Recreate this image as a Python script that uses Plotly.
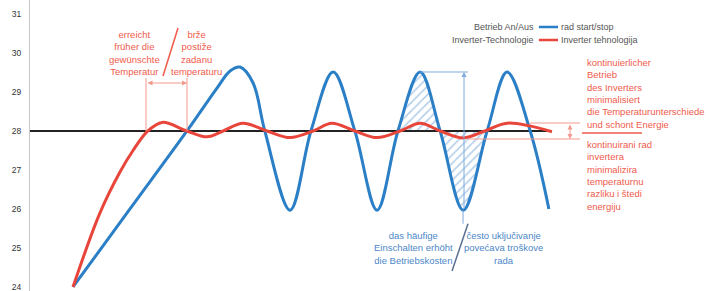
import plotly.graph_objects as go

# ---- data (time in arbitrary units, temperature in °C) ----
onoff_t = [0, 1.31, 2.62, 3.31, 3.61, 3.84, 4.14, 4.41, 4.99, 5.47, 5.98, 6.48,
           6.99, 7.47, 7.98, 8.44, 8.97, 9.52, 9.98, 10.51, 10.94]
onoff_v = [24.0, 26.0, 28.0, 29.1, 29.54, 29.64, 29.23, 28.0, 25.97, 28.0, 29.51, 28.0,
           25.97, 28.0, 29.51, 28.0, 25.97, 28.0, 29.51, 28.0, 26.0]

inv_t = [0, 0.62, 1.08, 1.38, 1.70, 2.05, 2.62, 3.08, 3.45, 3.91, 4.46, 4.99,
         5.52, 5.95, 6.48, 6.99, 7.52, 7.98, 8.44, 8.97, 9.47, 9.98, 11.01]
inv_v = [24.0, 25.9, 26.95, 27.5, 27.98, 28.22, 28.0, 27.85, 28.0, 28.2, 28.0, 27.83,
         28.0, 28.2, 28.0, 27.83, 28.0, 28.2, 28.0, 27.82, 28.0, 28.2, 27.98]

setpoint_t = [-0.9885, 11.01]
setpoint_v = [28, 28]

hatch_t = [7.47, 7.98, 8.44, 8.97, 9.52]
hatch_v = [28.0, 29.51, 28.0, 25.97, 28.0]
hatch_base = [28.0, 28.0, 28.0, 28.0, 28.0]

y_ticks = [24, 25, 26, 27, 28, 29, 30, 31]

BLUE = "#2b7fc6"
RED = "#e8463b"
RED_T = "#ef5b4c"
RED_L = "#f39a8e"
BLUE_T = "#4d87c8"
BLUE_L = "#7fabdb"
HATCH = "#5f98d2"
GRAY_T = "#555555"
FONT = "Liberation Sans"

fig = go.Figure()

# hatched area
fig.add_trace(go.Scatter(x=hatch_t, y=hatch_base, mode="lines", line=dict(width=0),
                         hoverinfo="skip", showlegend=False))
fig.add_trace(go.Scatter(x=hatch_t, y=hatch_v, mode="lines", line=dict(width=0, shape="spline"),
                         fill="tonexty", fillcolor="rgba(0,0,0,0)",
                         fillpattern=dict(shape="/", fgcolor=HATCH, bgcolor="rgba(0,0,0,0)",
                                          size=6, solidity=0.25),
                         hoverinfo="skip", showlegend=False))

fig.add_trace(go.Scatter(x=setpoint_t, y=setpoint_v, mode="lines",
                         line=dict(color="#222222", width=2), showlegend=False))
fig.add_trace(go.Scatter(x=onoff_t, y=onoff_v, mode="lines", name="rad start/stop",
                         line=dict(color=BLUE, width=3, shape="spline", smoothing=1.0),
                         showlegend=False))
fig.add_trace(go.Scatter(x=inv_t, y=inv_v, mode="lines", name="Inverter tehnologija",
                         line=dict(color=RED, width=3, shape="spline", smoothing=1.0),
                         showlegend=False))

shapes = []
def seg(x0, y0, x1, y1, color, w=1):
    shapes.append(dict(type="line", xref="x", yref="y", x0=x0, y0=y0, x1=x1, y1=y1,
                       line=dict(color=color, width=w)))

# left annotation lines
seg(2.414, 30.64, 2.069, 29.41, RED_T, 1.5)
seg(1.678, 28.0, 1.678, 29.36, RED_L, 1)
seg(2.621, 28.0, 2.621, 29.36, RED_L, 1)
# blue annotation lines
seg(7.977, 29.513, 9.08, 29.513, BLUE_L, 1)
seg(8.966, 25.97, 8.966, 25.62, BLUE_L, 1)
seg(9.08, 25.62, 8.713, 24.41, "#5a6f94", 1.5)
# right red reference lines
seg(10.506, 28.205, 11.655, 28.205, RED_L, 1)
seg(9.08, 27.795, 11.655, 27.795, RED_L, 1)
seg(11.70, 27.95, 13.08, 27.95, RED_T, 1.5)
# legend samples
seg(10.71, 30.667, 11.15, 30.667, BLUE, 2.5)
seg(10.71, 30.333, 11.15, 30.333, RED, 2.5)

ann = []
def text(x, y, s, color, xanchor="center", align="center", size=9.5):
    ann.append(dict(x=x, y=y, xref="x", yref="y", text=s, showarrow=False,
                    xanchor=xanchor, yanchor="middle", align=align,
                    font=dict(family=FONT, size=size, color=color)))

def arrow(x0, y0, x1, y1, color, both=False):
    ann.append(dict(x=x1, y=y1, ax=x0, ay=y0, xref="x", yref="y", axref="x", ayref="y",
                    text="", showarrow=True, arrowhead=2, startarrowhead=2, arrowsize=1,
                    startarrowsize=1, arrowwidth=1, arrowcolor=color,
                    arrowside="end+start" if both else "end"))

text(1.425, 30.01, "erreicht<br>früher die<br>gewünschte<br>Temperatur", RED_T)
text(2.85, 30.01, "brže<br>postiže<br>zadanu<br>temperaturu", RED_T)
arrow(1.678, 29.23, 2.621, 29.23, RED_L, both=True)

text(7.816, 25.01, "das häufige<br>Einschalten erhöht<br>die Betriebskosten", BLUE_T)
text(9.885, 25.01, "često uključivanje<br>povećava troškove<br>rada", BLUE_T)
arrow(8.989, 25.97, 8.989, 29.513, BLUE_L)

arrow(11.425, 28.205, 11.425, 27.795, RED_L, both=True)

text(11.77, 28.96, "kontinuierlicher<br>Betrieb<br>des Inverters<br>minimalisiert<br>"
     "die Temperaturunterschiede<br>und schont Energie", RED_T, xanchor="left", align="left")
text(11.77, 26.87, "kontinuirani rad<br>invertera<br>minimalizira<br>temperaturnu<br>"
     "razliku i štedi<br>energiju", RED_T, xanchor="left", align="left")

text(10.644, 30.667, "Betrieb An/Aus", GRAY_T, xanchor="right", size=9)
text(11.172, 30.667, "rad start/stop", GRAY_T, xanchor="left", size=9)
text(10.644, 30.333, "Inverter-Technologie", GRAY_T, xanchor="right", size=9)
text(11.172, 30.333, "Inverter tehnologija", GRAY_T, xanchor="left", size=9)

fig.update_layout(
    width=714, height=291,
    margin=dict(l=30, r=0, t=0, b=0),
    paper_bgcolor="white", plot_bgcolor="white",
    shapes=shapes, annotations=ann,
    showlegend=False,
    xaxis=dict(range=[-0.9885, 14.7356], visible=False),
    yaxis=dict(range=[23.897, 31.359], tickvals=y_ticks, showgrid=False, zeroline=False,
               showline=True, linecolor="#c8c8c8", linewidth=1, ticks="",
               ticklabelstandoff=6, ticklabeloverflow="allow",
               tickfont=dict(family=FONT, size=8.5, color="#333333")),
)

fig.write_html("out.html", config={"displayModeBar": False},
               post_script="document.body.style.margin='0';")
